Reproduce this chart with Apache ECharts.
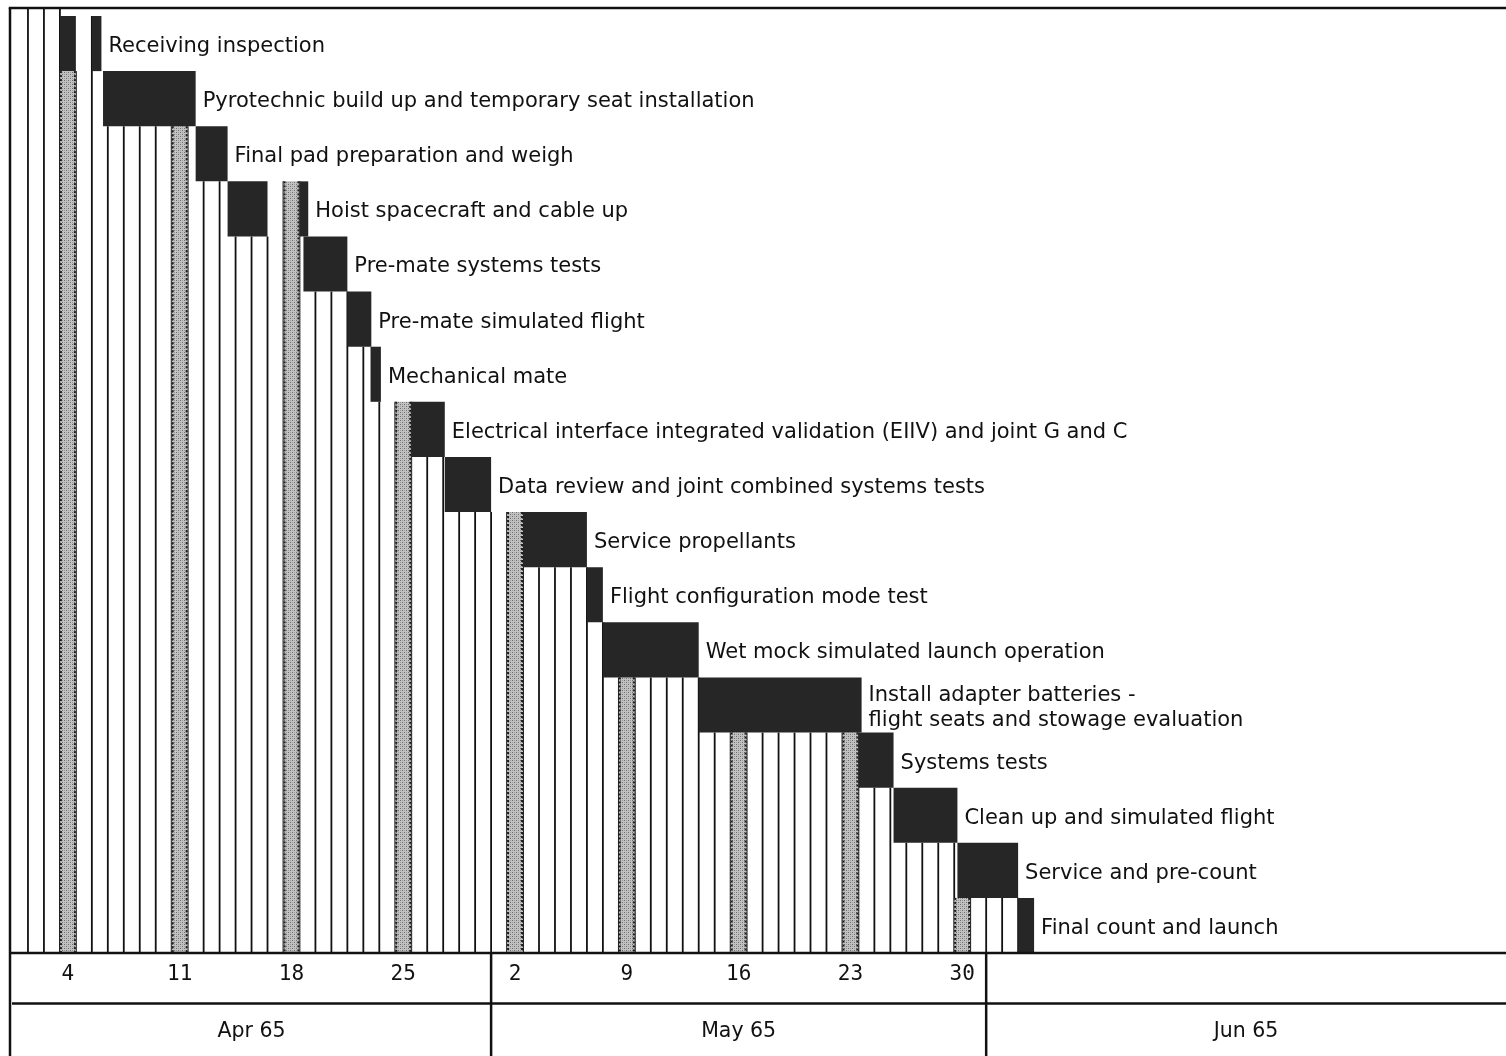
<!DOCTYPE html>
<html><head><meta charset="utf-8">
<script src="https://cdn.jsdelivr.net/npm/echarts@6/dist/echarts.min.js"></script>
<style>html,body{margin:0;padding:0;background:#fff}#c{width:1506px;height:1056px}</style>
</head><body><div id="c"></div>
<script>
// ---------------- data (days counted from the start of 1 Apr 1965) ----------------
const taskNames = [
  'Receiving inspection',
  'Pyrotechnic build up and temporary seat installation',
  'Final pad preparation and weigh',
  'Hoist spacecraft and cable up',
  'Pre-mate systems tests',
  'Pre-mate simulated flight',
  'Mechanical mate',
  'Electrical interface integrated validation (EIIV) and joint G and C',
  'Data review and joint combined systems tests',
  'Service propellants',
  'Flight configuration mode test',
  'Wet mock simulated launch operation',
  'Install adapter batteries -\nflight seats and stowage evaluation',
  'Systems tests',
  'Clean up and simulated flight',
  'Service and pre-count',
  'Final count and launch'
];
const taskSegments = [
  [[3, 4], [5, 5.6]],
  [[5.7, 11.5]],
  [[11.5, 13.5]],
  [[13.5, 16], [18, 18.55]],
  [[18.25, 21]],
  [[21, 22.5]],
  [[22.45, 23.1]],
  [[25, 27.1]],
  [[27.1, 30]],
  [[32, 36]],
  [[36, 37]],
  [[37, 43]],
  [[43, 53.2]],
  [[53, 55.2]],
  [[55.2, 59.2]],
  [[59.2, 63]],
  [[63, 64]]
];
const sundayLabels = ['4', '11', '18', '25', '2', '9', '16', '23', '30'];
const sundayDays = [3, 10, 17, 24, 31, 38, 45, 52, 59];
const monthLabels = ['Apr 65', 'May 65', 'Jun 65'];
const monthLengths = [30, 31, 30];

// ---------------- derived ----------------
const X_MIN = -0.125, X_MAX = 93.55;
const Y_MIN = -0.145, Y_MAX = taskNames.length;
const Y2_MAX = 2.04;
const segs = [];
taskSegments.forEach((list, row) => list.forEach(s => segs.push({ s: s[0], e: s[1], row })));
const firstStart = Math.min(...segs.map(g => g.s));
const lastEnd = Math.max(...segs.map(g => g.e));

function nextSeg(v) {
  return segs.filter(g => g.s >= v).sort((a, b) => a.s - b.s)[0];
}
function lineTop(k) {
  if (k <= firstStart) return Y_MIN;
  const cov = segs.filter(g => g.s <= k && k <= g.e);
  if (cov.length) return Math.min(...cov.map(g => g.s === k ? g.row : g.row + 1));
  const n = nextSeg(k);
  return n ? n.row : null;
}
function stippleTop(d) {
  const cov = segs.filter(g => g.s < d + 1 && g.e > d);
  if (cov.length) return Math.max(...cov.map(g => g.row + 1));
  const n = nextSeg(d);
  return n ? n.row : Y_MIN;
}
const lineData = [];
for (let k = 1; k <= Math.ceil(lastEnd); k++) {
  const t = lineTop(k);
  if (t !== null && t < Y_MAX) lineData.push([k, t]);
}
const stippleData = sundayDays.map(d => [d, d + 1, stippleTop(d)]);
const barData = segs.map(g => [g.s, g.e, g.row]);
const labelData = taskSegments.map((list, row) => [Math.max(...list.map(s => s[1])), row + 0.5, row]);
const monthData = [];
let acc = 0;
monthLengths.forEach((len, i) => {
  const end = i === monthLengths.length - 1 ? X_MAX : Math.min(acc + len, X_MAX);
  monthData.push([acc, end, i]); acc += len;
});
const dayLabelData = sundayDays.map((d, i) => [d + 0.5, i]);

// stipple pattern
const pc = document.createElement('canvas'); pc.width = 4; pc.height = 4;
const pctx = pc.getContext('2d');
pctx.fillStyle = '#c2c2c2'; pctx.fillRect(0, 0, 4, 4);
pctx.fillStyle = '#6e6e6e'; pctx.fillRect(0, 0, 1, 1); pctx.fillRect(2, 2, 1, 1);
pctx.fillStyle = '#9c9c9c'; pctx.fillRect(2, 0, 1, 1); pctx.fillRect(0, 2, 1, 1);
const stipple = { image: pc, repeat: 'repeat' };

function rectFrom(api, x0, x1, y0, y1) {
  const a = api.coord([x0, y0]), b = api.coord([x1, y1]);
  return { x: a[0], y: a[1], width: b[0] - a[0], height: b[1] - a[1] };
}
const border = { stroke: '#111', lineWidth: 2.5 };

const chart = echarts.init(document.getElementById('c'), null, { renderer: 'canvas' });
chart.setOption({
  animation: false,
  backgroundColor: '#fff',
  grid: [
    { left: 10, right: 0, top: 8, height: 945, show: false },
    { left: 10, right: 0, top: 953, bottom: 0, show: false }
  ],
  graphic: [
    { type: 'line', z: 10, shape: { x1: 8.75, y1: 8, x2: 1506, y2: 8 }, style: border },
    { type: 'line', z: 10, shape: { x1: 10, y1: 8, x2: 10, y2: 1056 }, style: border },
    { type: 'line', z: 10, shape: { x1: 10, y1: 953, x2: 1506, y2: 953 }, style: border }
  ],
  xAxis: [
    { type: 'value', gridIndex: 0, min: X_MIN, max: X_MAX, show: false },
    { type: 'value', gridIndex: 1, min: X_MIN, max: X_MAX, show: false }
  ],
  yAxis: [
    { type: 'value', gridIndex: 0, min: Y_MIN, max: Y_MAX, inverse: true, show: false },
    { type: 'value', gridIndex: 1, min: 0, max: Y2_MAX, inverse: true, show: false }
  ],
  series: [
    { // day grid lines below the staircase
      type: 'custom', xAxisIndex: 0, yAxisIndex: 0, z: 2, data: lineData,
      renderItem(p, api) {
        const a = api.coord([api.value(0), api.value(1)]), b = api.coord([api.value(0), Y_MAX]);
        return { type: 'line', shape: { x1: a[0], y1: a[1], x2: b[0], y2: b[1] }, style: { stroke: '#111', lineWidth: 1.8 } };
      }
    },
    { // Sunday columns
      type: 'custom', xAxisIndex: 0, yAxisIndex: 0, z: 3, data: stippleData,
      renderItem(p, api) {
        const r = rectFrom(api, api.value(0), api.value(1), api.value(2), Y_MAX);
        const edge = x => ({ type: 'line', shape: { x1: x, y1: r.y, x2: x, y2: r.y + r.height }, style: { stroke: '#1a1a1a', lineWidth: 2, lineDash: [2, 2] } });
        return { type: 'group', children: [
          { type: 'rect', shape: r, style: { fill: stipple } },
          edge(r.x + 1), edge(r.x + r.width - 1)
        ] };
      }
    },
    { // task bars
      type: 'custom', xAxisIndex: 0, yAxisIndex: 0, z: 4, data: barData,
      renderItem(p, api) {
        const r = rectFrom(api, api.value(0), api.value(1), api.value(2), api.value(2) + 1);
        return { type: 'rect', shape: r, style: { fill: '#262626' } };
      }
    },
    { // task labels
      type: 'custom', xAxisIndex: 0, yAxisIndex: 0, z: 5, data: labelData,
      renderItem(p, api) {
        const c = api.coord([api.value(0), api.value(1)]);
        return { type: 'text', x: c[0] + 7, y: c[1] + 3, style: {
          text: taskNames[api.value(2)], fill: '#111', font: '21px "DejaVu Sans"',
          textAlign: 'left', textVerticalAlign: 'middle', lineHeight: 25 } };
      }
    },
    { // day numbers (Sundays)
      type: 'custom', xAxisIndex: 1, yAxisIndex: 1, z: 5, data: dayLabelData,
      renderItem(p, api) {
        const c = api.coord([api.value(0), 0.42]);
        return { type: 'text', x: c[0], y: c[1], style: {
          text: sundayLabels[api.value(1)], fill: '#111', font: '21px "DejaVu Sans Mono"',
          textAlign: 'center', textVerticalAlign: 'middle' } };
      }
    },
    { // month boxes
      type: 'custom', xAxisIndex: 1, yAxisIndex: 1, z: 5, data: monthData,
      renderItem(p, api) {
        const s = api.value(0), e = api.value(1), i = api.value(2);
        const a = api.coord([s, 0]), b = api.coord([e, Y2_MAX]), m = api.coord([(s + e) / 2, 1.55]);
        const h = api.coord([s, 1]), he = api.coord([e, 1]);
        const ch = [
          { type: 'line', shape: { x1: h[0], y1: h[1], x2: he[0], y2: he[1] }, style: border },
          { type: 'text', x: m[0], y: m[1], style: { text: monthLabels[i], fill: '#111', font: '20.5px "DejaVu Sans"', textAlign: 'center', textVerticalAlign: 'middle' } }
        ];
        if (i > 0) ch.push({ type: 'line', shape: { x1: a[0], y1: a[1], x2: a[0], y2: b[1] }, style: border });
        return { type: 'group', children: ch };
      }
    }
  ]
});
</script>
</body></html>
